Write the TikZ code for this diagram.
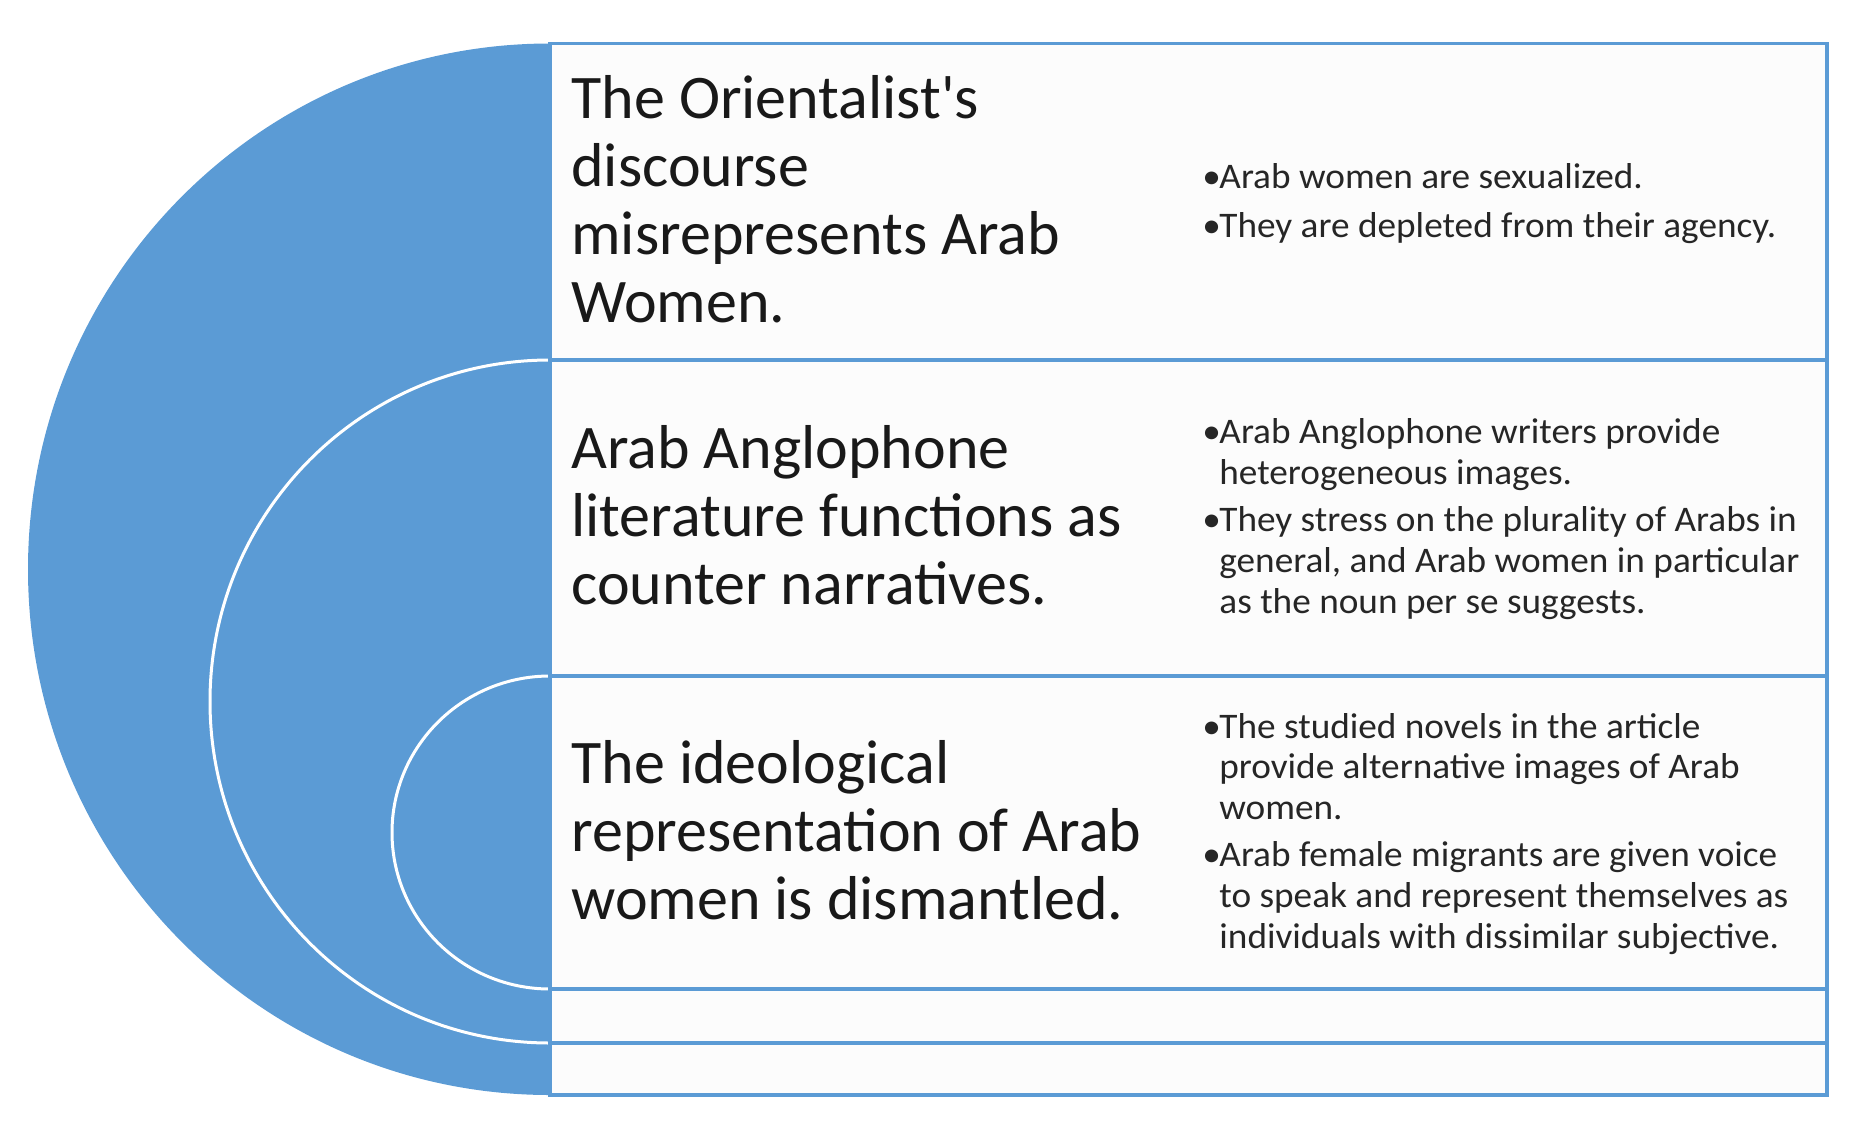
\documentclass[tikz,border=0pt]{standalone}
\usepackage{fontspec}
\setmainfont{Carlito}
\newfontfamily\bulfont[FakeStretch=1.035]{Carlito}
\definecolor{sablue}{HTML}{5B9BD5}
\definecolor{rowfill}{HTML}{FCFCFC}
\newlength{\bw}
\setlength{\bw}{8.5pt}
\newcommand{\bul}{\makebox[\bw][l]{•}}
\newcommand{\cont}{\hspace*{\bw}}
\begin{document}
\begin{tikzpicture}[x=0.5pt,y=-0.5pt,
  title/.style={anchor=base west,inner sep=0pt,align=left,font=\fontsize{31}{34}\selectfont,text=black!90},
  bullets/.style={anchor=base west,inner sep=0pt,align=left,font=\bulfont\fontsize{18}{20.3}\selectfont,text=black!85},
  rowline/.style={draw=sablue,line width=1.6pt},
  whitearc/.style={draw=white,line width=1.5pt}]
\useasboundingbox (0,0) rectangle (1869,1136);
% outer blue half disc
\fill[sablue] (550,43.5) arc[start angle=270,end angle=90,x radius=522,y radius=525.75] -- cycle;
% nested arcs
\draw[whitearc] (550,360) arc[start angle=270,end angle=90,x radius=340,y radius=341.5];
\draw[whitearc] (550,676) arc[start angle=270,end angle=90,x radius=158,y radius=156.5];
% rows
\fill[rowfill] (550,43.5) rectangle (1827,1095);
\draw[rowline] (550,43.5) rectangle (1827,1095);
\draw[rowline] (550,360) -- (1827,360);
\draw[rowline] (550,676) -- (1827,676);
\draw[rowline] (550,989) -- (1827,989);
\draw[rowline] (550,1043) -- (1827,1043);
% titles (anchored at the last line's baseline)
\node[title] (t1) at (571,322) {The Orientalist\textquotesingle s\\discourse\\misrepresents Arab\\Women.};
\node[title] (t2) at (571,604) {Arab Anglophone\\literature functions as\\counter narratives.};
\node[title] (t3) at (571,919) {The ideological\\representation of Arab\\women is dismantled.};
% bullets (anchored at the last line's baseline)
\node[bullets] (b1) at (1202,237) {\bul Arab women are sexualized.\\[4pt]\bul They are depleted from their agency.};
\node[bullets] (b2) at (1202,613) {\bul Arab Anglophone writers provide\\\cont heterogeneous images.\\[3.5pt]\bul They stress on the plurality of Arabs in\\\cont general, and Arab women in particular\\\cont as the noun per se suggests.};
\node[bullets] (b3) at (1202,948) {\bul The studied novels in the article\\\cont provide alternative images of Arab\\\cont women.\\[3.5pt]\bul Arab female migrants are given voice\\\cont to speak and represent themselves as\\\cont individuals with dissimilar subjective.};
\end{tikzpicture}
\end{document}
